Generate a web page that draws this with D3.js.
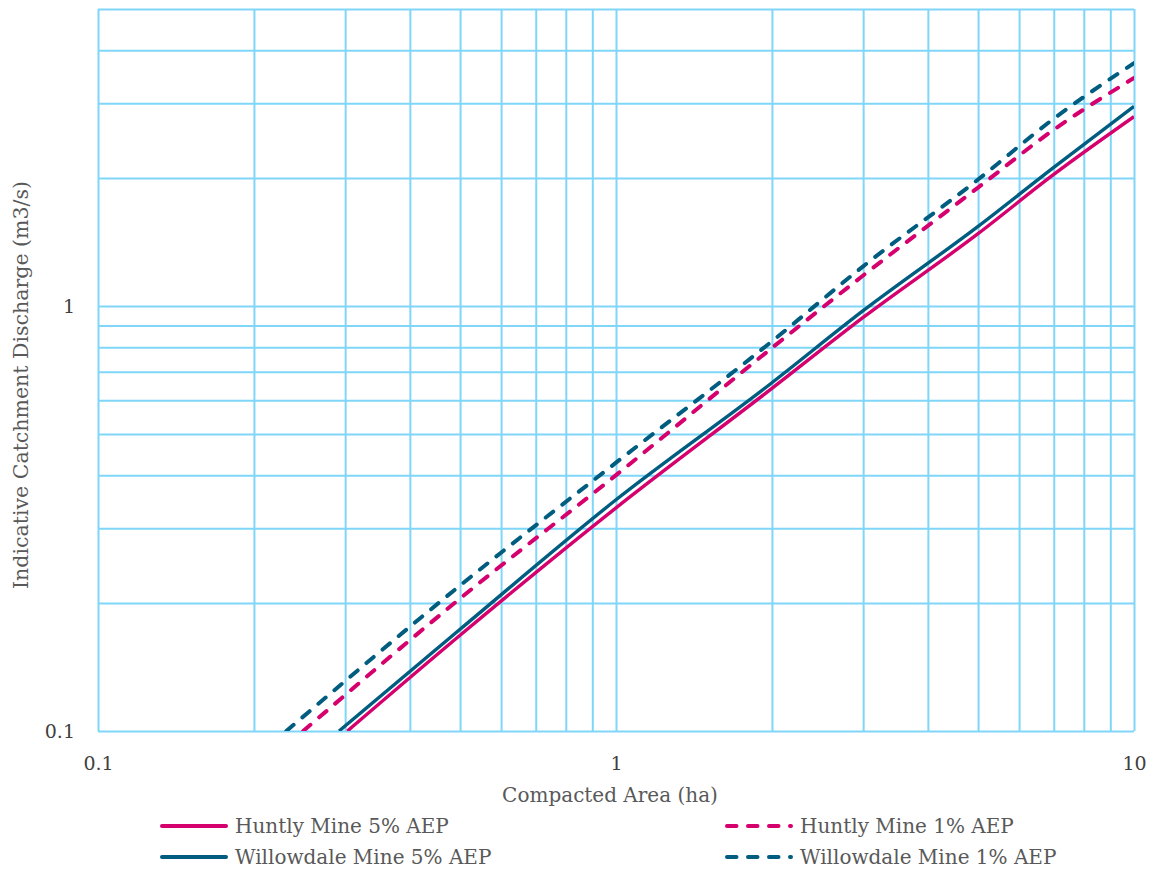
<!DOCTYPE html>
<html>
<head>
<meta charset="utf-8">
<script src="https://cdn.jsdelivr.net/npm/d3@7"></script>
<style>
  html, body { margin: 0; padding: 0; background: #ffffff; }
  svg { display: block; }
  text { font-family: "DejaVu Serif", "Liberation Serif", serif; }
</style>
</head>
<body>
<svg id="chart" width="1153" height="869"></svg>
<script>
// ---- data ----
const areas = [0.5, 1, 2, 3, 5, 7, 10];               // Compacted Area (ha)
const seriesNames = ["Huntly Mine 5% AEP", "Huntly Mine 1% AEP", "Willowdale Mine 5% AEP", "Willowdale Mine 1% AEP"];
// area at which each line enters the chart (discharge = 0.1 m3/s)
const startArea = [0.303, 0.249, 0.292, 0.231];
const huntly5  = [0.168, 0.335, 0.640, 0.94, 1.48, 2.04, 2.79];
const huntly1  = [0.205, 0.400, 0.797, 1.18, 1.90, 2.60, 3.44];
const willow5  = [0.1735, 0.350, 0.660, 0.975, 1.54, 2.12, 2.95];
const willow1  = [0.220, 0.428, 0.826, 1.24, 1.985, 2.76, 3.73];
const xGrid = [0.1,0.2,0.3,0.4,0.5,0.6,0.7,0.8,0.9,1,2,3,4,5,6,7,8,9,10];
const yGrid = [0.1,0.2,0.3,0.4,0.5,0.6,0.7,0.8,0.9,1,2,3,4,5];
const xTickLabels = [0.1, 1, 10];
const yTickLabels = [0.1, 1];
const xTitle = "Compacted Area (ha)";
const yTitle = "Indicative Catchment Discharge (m3/s)";

// ---- styling ----
const colors = ["#D5006D", "#D5006D", "#005D80", "#005D80"];
const dashed = [false, true, false, true];
const gridColor = "#7FD6F8";
const pL = 98, pR = 1134, pT = 9, pB = 731;

const svg = d3.select("#chart");
const x = d3.scaleLog().domain([0.1, 10]).range([pL, pR]);
const y = d3.scaleLog().domain([0.1, 5]).range([pB, pT]);

// grid via axes
const xAxis = d3.axisBottom(x).tickValues(xGrid).tickSize(-(pB - pT))
  .tickFormat(d => xTickLabels.includes(d) ? String(d) : "");
const gx = svg.append("g").attr("transform", `translate(0,${pB})`).call(xAxis);
const yAxis = d3.axisLeft(y).tickValues(yGrid).tickSize(-(pR - pL))
  .tickFormat(d => yTickLabels.includes(d) ? String(d) : "");
const gy = svg.append("g").attr("transform", `translate(${pL},0)`).call(yAxis);

[gx, gy].forEach(g => {
  g.select(".domain").remove();
  g.selectAll(".tick line").attr("stroke", gridColor).attr("stroke-width", 2);
  g.selectAll(".tick text").attr("fill", "#404040").attr("font-size", 19)
    .attr("font-family", "DejaVu Serif, serif");
});
gx.selectAll(".tick text").attr("y", 26).attr("dy", "0.71em");
gy.selectAll(".tick text").attr("x", -23).attr("dy", "0.36em");

// lines
const allValues = [huntly5, huntly1, willow5, willow1];
const line = d3.line().x(d => x(d[0])).y(d => y(d[1])).curve(d3.curveMonotoneX);
const series = seriesNames.map((name, i) => ({
  name, color: colors[i], dashed: dashed[i],
  pts: [[startArea[i], 0.1]].concat(areas.map((a, j) => [a, allValues[i][j]]))
}));
const drawOrder = [0, 2, 1, 3];
svg.append("defs").append("clipPath").attr("id", "plotclip")
  .append("rect").attr("x", pL).attr("y", pT).attr("width", pR - pL).attr("height", pB - pT);
const gl = svg.append("g").attr("clip-path", "url(#plotclip)");
drawOrder.forEach(i => {
  const s = series[i];
  gl.append("path").attr("d", line(s.pts)).attr("fill", "none")
    .attr("stroke", s.color)
    .attr("stroke-width", s.dashed ? 4 : 3.4)
    .attr("stroke-linecap", s.dashed ? "round" : "butt")
    .attr("stroke-dasharray", s.dashed ? "9.5 11.5" : null);
});

// axis titles
svg.append("text").attr("x", 610).attr("y", 802).attr("text-anchor", "middle")
  .attr("font-size", 20).attr("fill", "#595959").text(xTitle);
svg.append("text").attr("transform", "translate(28,385) rotate(-90)").attr("text-anchor", "middle")
  .attr("font-size", 20.5).attr("fill", "#595959").text(yTitle);

// legend
const legendPos = [[160, 826], [725, 826], [160, 857], [725, 857]];
series.forEach((s, i) => {
  const [lx, ly] = legendPos[i];
  svg.append("line").attr("x1", lx + 2).attr("x2", lx + 66).attr("y1", ly).attr("y2", ly)
    .attr("stroke", s.color).attr("stroke-width", 4)
    .attr("stroke-linecap", "round")
    .attr("stroke-dasharray", s.dashed ? "9.5 11.5" : null);
  svg.append("text").attr("x", lx + 75).attr("y", ly).attr("dy", "0.35em")
    .attr("font-size", 20).attr("fill", "#595959").text(s.name);
});
</script>
</body>
</html>
